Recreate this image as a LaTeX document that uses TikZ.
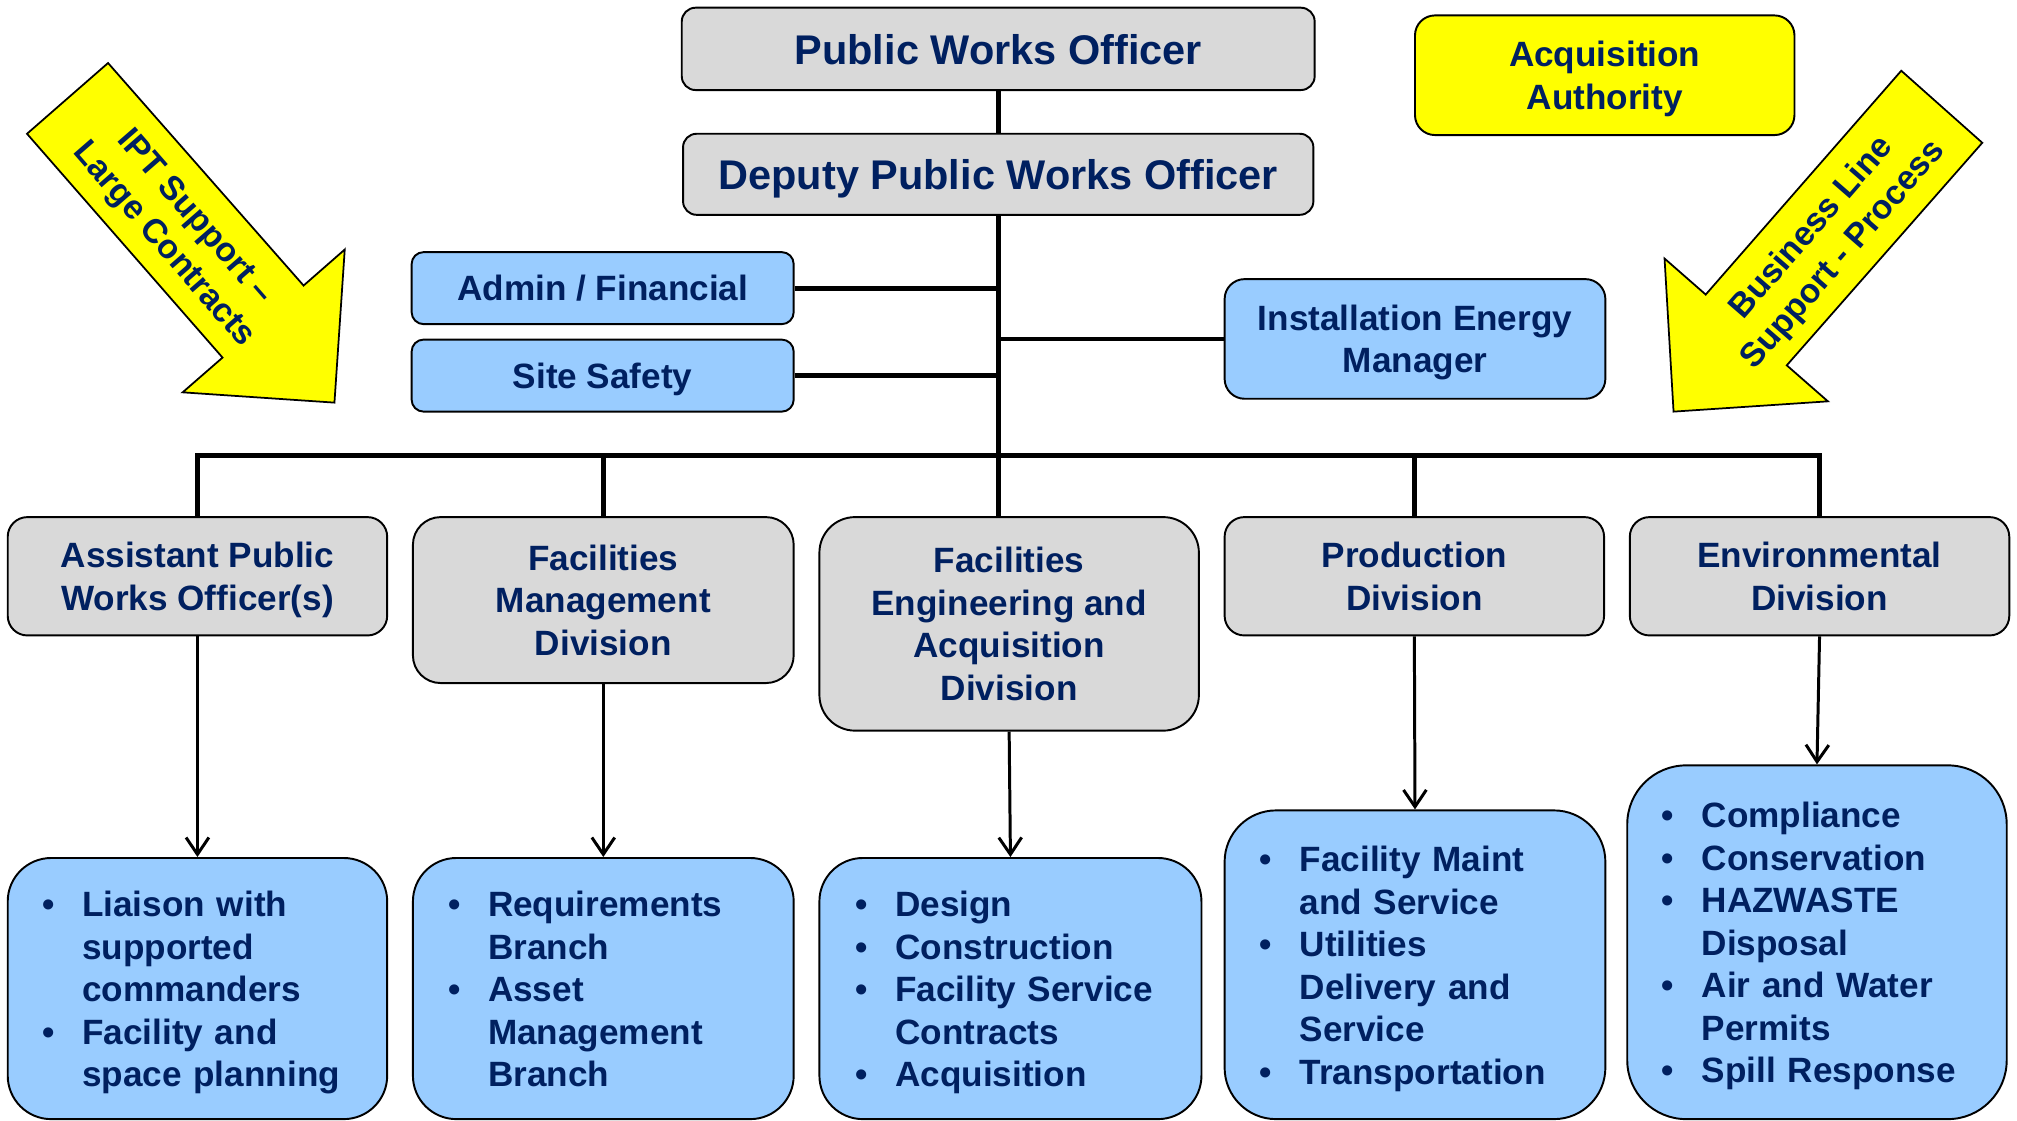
\documentclass[tikz,border=0pt]{standalone}
\usepackage{fontspec}
\setmainfont{Liberation Sans}
\usetikzlibrary{arrows.meta}
\definecolor{navy}{HTML}{002060}
\definecolor{boxgray}{HTML}{D9D9D9}
\definecolor{boxblue}{HTML}{99CCFF}
\definecolor{signyellow}{HTML}{FFFF00}
\newcommand{\pxu}{0.366pt}
\newcommand{\boxlines}[1]{\begin{tabular}{@{}c@{}}\rule{0pt}{1.09em}\ignorespaces#1\end{tabular}}
\newcommand{\dutylist}[1]{\noindent\begin{tabular}{@{}l@{\hspace{7.85pt}}l@{}}\rule{0pt}{11.1pt}\ignorespaces#1\end{tabular}}
\tikzset{
    chart/.style={draw=black, line width=0.55pt, text=navy, inner sep=0pt,
        font=\bfseries\fontsize{10}{12.1}\selectfont},
    boxsize/.style n args={3}{minimum width=#1*\pxu, minimum height=#2*\pxu, rounded corners=#3*\pxu},
    head/.style={chart, fill=boxgray},
    title/.style={head, font=\bfseries\fontsize{11.8}{14}\selectfont},
    staff/.style={chart, fill=boxblue},
    duties/.style={chart, fill=boxblue, text width=88.3pt, align=left},
    authority/.style={chart, fill=signyellow},
    orgline/.style={line width=1.35pt},
    feed/.style={line width=0.85pt, -{Straight Barb[length=4.8pt,width=6.5pt]}},
    support/.style={draw=black, fill=signyellow, line width=0.5pt},
    supporttext/.style={text=navy, align=center, inner sep=0pt,
        font=\bfseries\fontsize{9.6}{11.8}\selectfont}
}
\begin{document}
\begin{tikzpicture}[x=\pxu, y=-\pxu]
    \useasboundingbox (0,0) rectangle (1568,871);
    \draw[support] (21,104) -- (84,49) -- (236,222) -- (268,194) -- (260,313) -- (142,305) -- (173,278) -- cycle;
    \node[supporttext, rotate=-49] (ipt) at (139,180) {IPT Support --\\Large Contracts};
    \draw[support] (1478,55) -- (1541,111) -- (1389,284) -- (1421,312) -- (1301,320) -- (1294,201) -- (1326,229) -- cycle;
    \node[supporttext, rotate=49] (business) at (1421,188) {Business Line\\Support - Process};
    \node[title, boxsize={492}{64}{10.7}] (pwo) at (776,38) {\boxlines{Public Works Officer}};
    \node[title, boxsize={490}{63}{10.5}] (dpwo) at (776,135.5) {\boxlines{Deputy Public Works Officer}};
    \node[authority, boxsize={295}{93}{15.5}] (acq) at (1247.5,58.5) {\boxlines{Acquisition\\Authority}};
    \node[staff, boxsize={297}{56}{9.3}] (admin) at (468.5,224) {\boxlines{Admin / Financial}};
    \node[staff, boxsize={297}{56}{9.3}] (safety) at (468.5,292) {\boxlines{Site Safety}};
    \node[staff, boxsize={296}{93}{15.5}] (energy) at (1100,263.5) {\boxlines{Installation Energy\\Manager}};
    \node[head, boxsize={295}{92}{15.3}] (apwo) at (153.5,448) {\boxlines{Assistant Public\\Works Officer(s)}};
    \node[head, boxsize={296}{129}{21.5}] (fmd) at (469,466.5) {\boxlines{Facilities\\Management\\Division}};
    \node[head, boxsize={295}{166}{27.7}] (fead) at (784.5,485) {\boxlines{Facilities\\Engineering and\\Acquisition\\Division}};
    \node[head, boxsize={295}{92}{15.3}] (prod) at (1099.5,448) {\boxlines{Production\\Division}};
    \node[head, boxsize={295}{92}{15.3}] (env) at (1414.5,448) {\boxlines{Environmental\\Division}};
    \node[duties, boxsize={295}{203}{33.8}] (apwoL) at (153.5,768.5) {\dutylist{
        • & Liaison with\\ & supported\\ & commanders\\
        • & Facility and\\ & space planning}};
    \node[duties, boxsize={296}{203}{33.8}] (fmdL) at (469,768.5) {\dutylist{
        • & Requirements\\ & Branch\\
        • & Asset\\ & Management\\ & Branch}};
    \node[duties, boxsize={297}{203}{33.8}] (feadL) at (785.5,768.5) {\dutylist{
        • & Design\\
        • & Construction\\
        • & Facility Service\\ & Contracts\\
        • & Acquisition}};
    \node[duties, boxsize={296}{240}{40}] (prodL) at (1100,750) {\dutylist{
        • & Facility Maint\\ & and Service\\
        • & Utilities\\ & Delivery and\\ & Service\\
        • & Transportation}};
    \node[duties, boxsize={295}{275}{45.8}] (envL) at (1412.5,732.5) {\dutylist{
        • & Compliance\\
        • & Conservation\\
        • & HAZWASTE\\ & Disposal\\
        • & Air and Water\\ & Permits\\
        • & Spill Response}};
    \coordinate (bus) at (776,354);
    \draw[orgline]
        (pwo.south) -- (dpwo.north)
        (dpwo.south) -- (dpwo.south |- fead.north)
        (admin.east) -- (admin.east -| dpwo.south)
        (safety.east) -- (safety.east -| dpwo.south)
        (energy.west) -- (energy.west -| dpwo.south);
    \draw[orgline]
        (apwo.north) |- (bus) -| (env.north)
        (fmd.north) -- (fmd.north |- bus)
        (prod.north) -- (prod.north |- bus);
    \draw[feed] (apwo.south) -- (apwoL.north);
    \draw[feed] (fmd.south) -- (fmdL.north);
    \draw[feed] (fead.south) -- (feadL.north);
    \draw[feed] (prod.south) -- (prodL.north);
    \draw[feed] (env.south) -- (envL.north);
\end{tikzpicture}
\end{document}
